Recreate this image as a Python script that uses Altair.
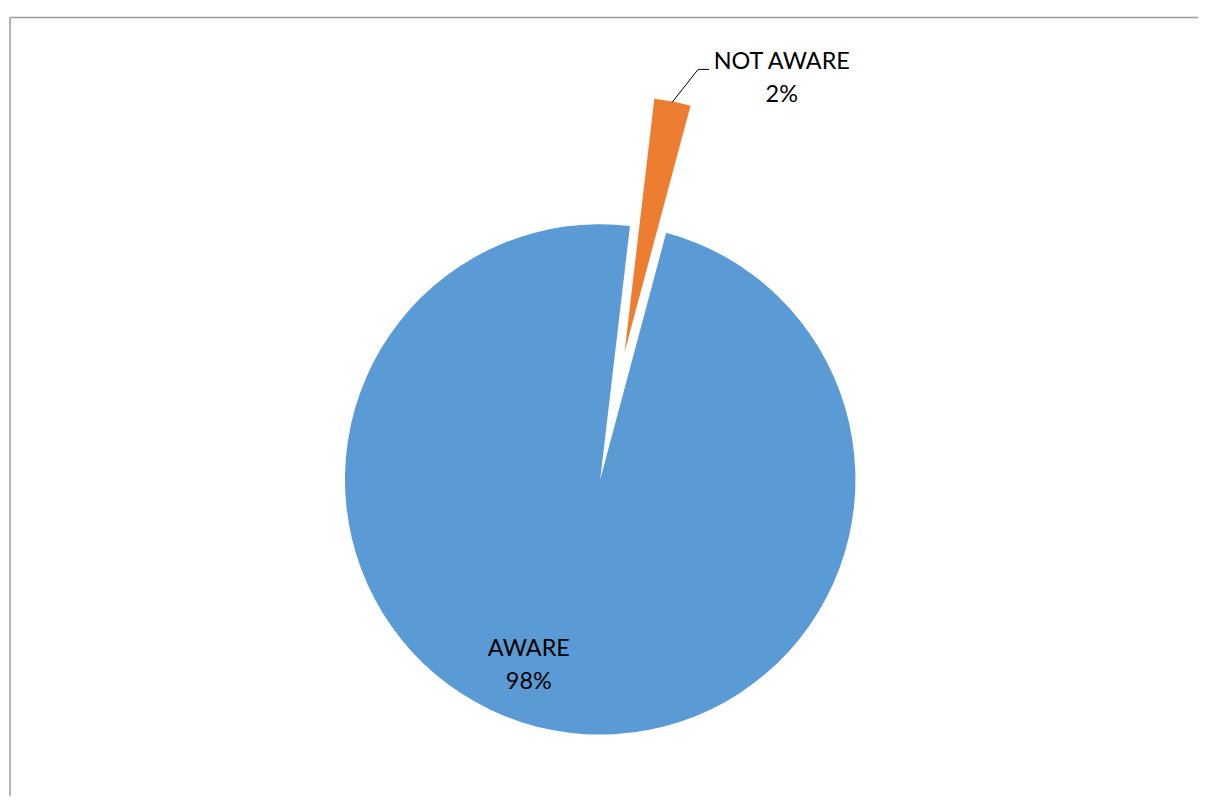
import math
import altair as alt
import pandas as pd

categories = ["NOT AWARE", "AWARE"]
values = [2.3, 97.7]
pct_labels = ["2%", "98%"]
colors = ["#ED7D31", "#5B9BD5"]

start_deg = 6.7      # first slice angle (clockwise from 12 o'clock)
explode = 130        # explosion distance of NOT AWARE slice (px)
cx, cy, R = 594.7, 471.7, 256.3
W, H = 1195, 790

df = pd.DataFrame({"category": categories, "value": values,
                   "pct": pct_labels, "order": list(range(len(categories)))})

off = math.radians(start_deg)
total = sum(values)
mid = off + 2 * math.pi * (values[0] / 2) / total
ex_dx = explode * math.sin(mid)
ex_dy = -explode * math.cos(mid)

base = alt.Chart(df).transform_stack(
    stack="value", groupby=[], as_=["v0", "v1"],
    sort=[alt.SortField("order", order="ascending")]
)

theta_scale = alt.Scale(domain=[0, total], range=[off, off + 2 * math.pi])
color_scale = alt.Scale(domain=categories, range=colors)

def arc_layer(cat, x, y):
    return base.transform_filter(alt.datum.category == cat).mark_arc(
        outerRadius=R
    ).encode(
        theta=alt.Theta("v0:Q", scale=theta_scale),
        theta2="v1:Q",
        color=alt.Color("category:N", scale=color_scale, legend=None),
        x=alt.value(x), y=alt.value(y),
    )

aware = arc_layer("AWARE", cx, cy)
not_aware = arc_layer("NOT AWARE", cx + ex_dx, cy + ex_dy)

def label_layer(cat, x, y):
    return base.transform_filter(alt.datum.category == cat).transform_calculate(
        lbl="[datum.category, datum.pct]"
    ).mark_text(font="Lato", fontSize=23.5, lineHeight=33, align="center",
                baseline="alphabetic", color="#000000").encode(
        text="lbl:N", x=alt.value(x), y=alt.value(y)
    )

lab_not = label_layer("NOT AWARE", 777, 60)
lab_aw = label_layer("AWARE", 523, 649)

dummy = alt.Chart(pd.DataFrame({"k": [0]}))
leader1 = dummy.mark_rule(color="#000000", strokeWidth=1).encode(
    x=alt.value(704), x2=alt.value(693), y=alt.value(60), y2=alt.value(60))
leader2 = dummy.mark_rule(color="#000000", strokeWidth=1).encode(
    x=alt.value(693), x2=alt.value(667), y=alt.value(60), y2=alt.value(93))
border_top = dummy.mark_rule(color="#9a9a9a", strokeWidth=1.5).encode(
    x=alt.value(2), x2=alt.value(W), y=alt.value(8), y2=alt.value(8))
border_left = dummy.mark_rule(color="#9a9a9a", strokeWidth=1.5).encode(
    x=alt.value(2), x2=alt.value(2), y=alt.value(8), y2=alt.value(H))

chart = alt.layer(
    border_top, border_left, aware, not_aware, leader1, leader2, lab_not, lab_aw
).properties(
    width=W, height=H, padding=0, autosize=alt.AutoSizeParams(type="none")
).configure_view(stroke=None)

chart.save("out.html", embed_options={"renderer": "svg", "actions": False})
